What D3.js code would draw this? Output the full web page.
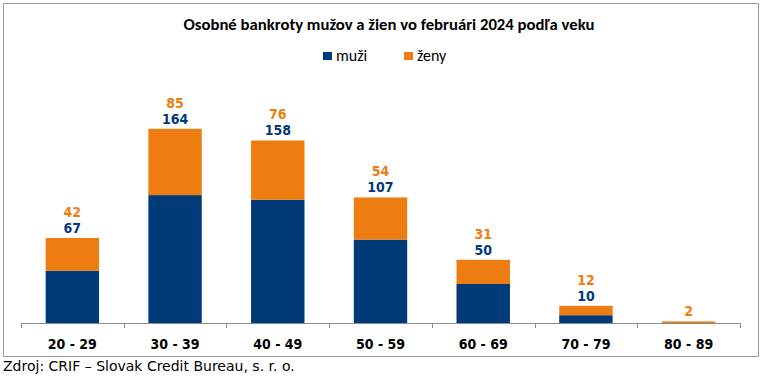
<!DOCTYPE html>
<html>
<head>
<meta charset="utf-8">
<script src="https://cdn.jsdelivr.net/npm/d3@7"></script>
<style>
  html, body { margin: 0; padding: 0; background: #fff; }
  svg { display: block; }
</style>
</head>
<body>
<svg id="chart" width="761" height="380"></svg>
<script>
const title = "Osobné bankroty mužov a žien vo februári 2024 podľa veku";
const source = "Zdroj: CRIF – Slovak Credit Bureau, s. r. o.";
const categories = ["20 - 29", "30 - 39", "40 - 49", "50 - 59", "60 - 69", "70 - 79", "80 - 89"];
const seriesNames = ["muži", "ženy"];
const muzi = [67, 164, 158, 107, 50, 10, 0];
const zeny = [42, 85, 76, 54, 31, 12, 2];
const colors = ["#003A78", "#EE7D11"];

const svg = d3.select("#chart");

// border
svg.append("rect").attr("x", 3.5).attr("y", 3.5).attr("width", 755).attr("height", 353)
  .attr("fill", "#fff").attr("stroke", "#9a9a9a").attr("stroke-width", 1);

// title
const t = svg.append("text").attr("x", 389).attr("y", 30).attr("text-anchor", "middle")
  .attr("font-family", "Calibri, Carlito, Lato, sans-serif").attr("font-weight", 700)
  .attr("font-size", 15).attr("fill", "#000").text(title);
const tw = t.node().getComputedTextLength();
if (tw > 0) t.attr("font-size", 15 * 411 / tw);

// legend
const legendX = [323, 404];
seriesNames.forEach((name, i) => {
  svg.append("rect").attr("x", legendX[i]).attr("y", 52).attr("width", 9).attr("height", 8)
    .attr("fill", colors[i]);
  svg.append("text").attr("x", legendX[i] + 13).attr("y", 60.5)
    .attr("font-family", "Calibri, Carlito, Lato, sans-serif").attr("font-size", 16)
    .attr("fill", "#000").text(name);
});

const x = d3.scaleBand().domain(categories).range([21, 740]).paddingInner(0.48).paddingOuter(0.24);
const y = d3.scaleLinear().domain([0, 300]).range([323, 89]);

const data = categories.map((c, i) => ({ cat: c, muzi: muzi[i], zeny: zeny[i] }));
const stack = d3.stack().keys(["muzi", "zeny"])(data);

stack.forEach((layer, li) => {
  svg.append("g").selectAll("rect").data(layer).join("rect")
    .attr("x", d => x(d.data.cat))
    .attr("width", x.bandwidth())
    .attr("y", d => y(d[1]))
    .attr("height", d => y(d[0]) - y(d[1]))
    .attr("fill", colors[li]);
});

// axis
const axisG = svg.append("g").attr("transform", "translate(0,323)");
axisG.append("line").attr("x1", 21).attr("x2", 740).attr("y1", 0.5).attr("y2", 0.5)
  .attr("stroke", "#8c8c8c").attr("stroke-width", 1);
const bounds = categories.map(c => x(c) - x.step() * x.paddingInner() / 2);
bounds.push(740);
axisG.selectAll("line.tick").data(bounds).join("line").attr("class", "tick")
  .attr("x1", d => Math.round(d) + 0.5).attr("x2", d => Math.round(d) + 0.5)
  .attr("y1", 0).attr("y2", 5).attr("stroke", "#8c8c8c");
axisG.selectAll("text").data(categories).join("text")
  .attr("x", d => x(d) + x.bandwidth() / 2).attr("y", 26)
  .attr("text-anchor", "middle")
  .attr("font-family", "'DejaVu Sans Condensed', 'DejaVu Sans', sans-serif")
  .attr("font-weight", 700).attr("font-size", 14).attr("fill", "#000")
  .text(d => d);

// value labels
const lbl = svg.append("g")
  .attr("font-family", "'DejaVu Sans Condensed', 'DejaVu Sans', sans-serif")
  .attr("font-weight", 700).attr("font-size", 14).attr("text-anchor", "middle");
data.forEach(d => {
  const cx = x(d.cat) + x.bandwidth() / 2;
  const top = y(d.muzi + d.zeny);
  let offset = 5;
  if (d.muzi > 0) {
    lbl.append("text").attr("x", cx).attr("y", top - offset).attr("fill", colors[0]).text(d.muzi);
    offset += 16;
  }
  if (d.zeny > 0) {
    lbl.append("text").attr("x", cx).attr("y", top - offset).attr("fill", colors[1]).text(d.zeny);
  }
});

// source
const s = svg.append("text").attr("x", 3).attr("y", 371)
  .attr("font-family", "'DejaVu Sans', Verdana, sans-serif").attr("font-size", 13)
  .attr("fill", "#000").text(source);
const sw = s.node().getComputedTextLength();
if (sw > 0) s.attr("font-size", 13 * 292 / sw);
</script>
</body>
</html>
